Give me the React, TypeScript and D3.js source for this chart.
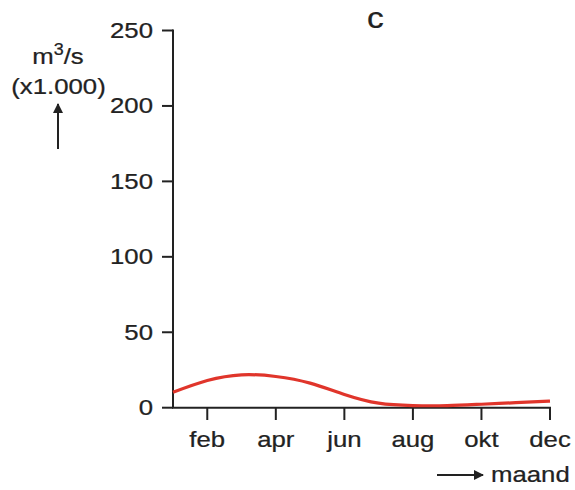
import React from "react";
import * as d3 from "d3";

const months = ["jan", "feb", "mrt", "apr", "mei", "jun", "jul", "aug", "sep", "okt", "nov", "dec"];
const values = [10.2, 18, 21.8, 20.7, 16.3, 8.8, 3.0, 1.4, 1.4, 2.3, 3.3, 4.4];
const tickMonths = ["feb", "apr", "jun", "aug", "okt", "dec"];
const yTicks = [0, 50, 100, 150, 200, 250];

const W = 575;
const H = 490;
const FONT = "'Liberation Sans', Arial, sans-serif";
const INK = "#222";
const SX = 1.12;

function Label({ x, y, anchor = "start", size = 23, children }: any) {
  return (
    <text
      transform={`translate(${x},${y}) scale(${SX},1)`}
      textAnchor={anchor}
      fontFamily={FONT}
      fontSize={size}
      fill={INK}
      stroke={INK}
      strokeWidth={0.25}
    >
      {children}
    </text>
  );
}

export default function App() {
  const x = d3.scalePoint<string>().domain(months).range([173, 550]);
  const y = d3.scaleLinear().domain([0, 250]).range([407.7, 30.5]);
  const line = d3
    .line<number>()
    .x((_, i) => x(months[i]) as number)
    .y((d) => y(d))
    .curve(d3.curveNatural);

  return (
    <svg width={W} height={H} style={{ position: "absolute", left: 0, top: 0, background: "#fff" }}>
      <defs>
        <marker id="ah" viewBox="0 0 10 10" refX="9" refY="5" markerWidth="10" markerHeight="10" markerUnits="userSpaceOnUse" orient="auto">
          <path d="M0,0 L10,5 L0,10 z" fill={INK} />
        </marker>
      </defs>
      {/* y axis */}
      <line x1={173} x2={173} y1={y(250) - 1} y2={y(0)} stroke={INK} strokeWidth={2} />
      {yTicks.map((t) => (
        <g key={t}>
          <line x1={162} x2={173} y1={y(t)} y2={y(t)} stroke={INK} strokeWidth={2} />
          <Label x={153} y={y(t) + 7.5} anchor="end">
            {t}
          </Label>
        </g>
      ))}
      {/* x axis */}
      <line x1={172} x2={551} y1={y(0)} y2={y(0)} stroke={INK} strokeWidth={2} />
      {tickMonths.map((m) => (
        <g key={m}>
          <line x1={x(m)} x2={x(m)} y1={y(0)} y2={420} stroke={INK} strokeWidth={2} />
          <Label x={x(m)} y={446.5} anchor="middle">
            {m}
          </Label>
        </g>
      ))}
      {/* curve */}
      <path d={line(values) || ""} fill="none" stroke="#e0352b" strokeWidth={3.2} />
      {/* title */}
      <Label x={375.5} y={28.3} anchor="middle" size={30}>
        c
      </Label>
      {/* y label */}
      <Label x={58} y={63.5} anchor="middle">
        m<tspan dy={-9} fontSize={16}>3</tspan>
        <tspan dy={9}>/s</tspan>
      </Label>
      <Label x={58.5} y={94} anchor="middle">
        (x1.000)
      </Label>
      <line x1={58} x2={58} y1={149} y2={104} stroke={INK} strokeWidth={2} markerEnd="url(#ah)" />
      {/* x label */}
      <line x1={437} x2={483} y1={475} y2={475} stroke={INK} strokeWidth={2} markerEnd="url(#ah)" />
      <Label x={491} y={482.3}>
        maand
      </Label>
    </svg>
  );
}
